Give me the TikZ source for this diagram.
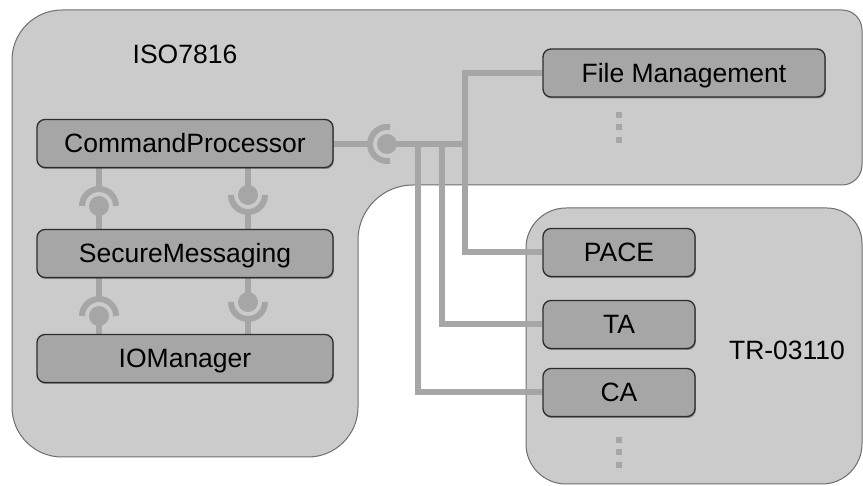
\documentclass[tikz,border=0pt]{standalone}
\usepackage{fontspec}
\setmainfont{Liberation Sans}
\usetikzlibrary{shadows}
\definecolor{areafill}{RGB}{203,203,203}
\definecolor{areaedge}{RGB}{110,110,110}
\definecolor{boxfill}{RGB}{166,166,166}
\definecolor{boxedge}{RGB}{45,45,45}
\definecolor{wire}{RGB}{166,166,166}
\pgfdeclarelayer{areas}
\pgfdeclarelayer{wires}
\pgfsetlayers{areas,wires,main}
\tikzset{
  area/.style={fill=areafill, draw=areaedge, line width=1pt},
  comp/.style={draw=boxedge, fill=boxfill, line width=1.3pt, rounded corners=8pt,
    minimum height=48pt, inner sep=0pt, text height=19pt, text depth=0pt,
    font=\fontsize{26.5}{30}\selectfont,
    drop shadow={shadow xshift=0.8pt, shadow yshift=-1.5pt, opacity=0.35, fill=black}},
  wide/.style={comp, minimum width=296pt},
  fmbox/.style={comp, minimum width=282pt},
  small/.style={comp, minimum width=152pt},
  conn/.style={draw=wire, line width=6pt, line join=miter},
  sock/.style={draw=wire, line width=6pt},
  ball/.style={fill=wire},
  dot/.style={fill=wire},
  lbl/.style={font=\fontsize{26.5}{30}\selectfont, text height=19pt, text depth=0pt, inner sep=0pt}
}
\begin{document}
\begin{tikzpicture}[x=1pt, y=-1pt]
\useasboundingbox (0,0) rectangle (863,486);
\clip (0,0) rectangle (863,486);

\begin{pgfonlayer}{areas}
% ISO7816 area
\path[area] (12,60) arc[start angle=180, end angle=270, radius=50]
  -- (842,10) arc[start angle=270, end angle=360, radius=20]
  -- (862,165) arc[start angle=0, end angle=90, radius=20]
  -- (413,185) arc[start angle=270, end angle=180, radius=55]
  -- (358,407) arc[start angle=0, end angle=90, radius=50]
  -- (62,457) arc[start angle=90, end angle=180, radius=50]
  -- cycle;
% TR-03110 area
\path[area] (526,248) arc[start angle=180, end angle=270, radius=40]
  -- (827,208) arc[start angle=270, end angle=360, radius=35]
  -- (862,444) arc[start angle=0, end angle=90, radius=40]
  -- (566,484) arc[start angle=90, end angle=180, radius=40]
  -- cycle;
\end{pgfonlayer}

\node[lbl] (iso) at (185,54) {ISO7816};
\node[lbl] (tr) at (787,350) {TR-03110};

% component boxes
\node[wide] (cp) at (185,143.5) {CommandProcessor};
\node[wide] (sm) at (185,253.5) {SecureMessaging};
\node[wide] (iom) at (185,358.5) {IOManager};
\node[fmbox] (fm) at (684,73) {File Management};
\node[small] (pace) at (619,252.5) {PACE};
\node[small] (ta) at (619,324.5) {TA};
\node[small] (ca) at (619,392.5) {CA};

% continuation dots
\foreach \yy in {115,127,140} {
  \fill[dot] (616,\yy-3) rectangle (622,\yy+3);
}
\foreach \yy in {440,452,465} {
  \fill[dot] (616,\yy-3) rectangle (622,\yy+3);
}

% connector geometry
\coordinate (s0) at (387,144);
\coordinate (s0in) at (368,144);
\coordinate (j1) at (418,144);
\coordinate (j2) at (442,144);
\coordinate (j3) at (465,144);

\coordinate (a1) at (99,206);
\coordinate (a1t) at (99,191);
\coordinate (b1) at (248,195);
\coordinate (b1b) at (248,211);
\coordinate (a2) at (99,316);
\coordinate (a2t) at (99,301);
\coordinate (b2) at (248,302);
\coordinate (b2b) at (248,318);

\begin{pgfonlayer}{wires}
% CommandProcessor to external interfaces
\draw[conn] (cp.east |- s0in) -- (s0in);
\draw[conn] (s0) -- (j3);
\draw[conn] (j1) |- (ca.west);
\draw[conn] (j2) |- (ta.west);
\draw[conn] (j3) |- (pace.west);
\draw[conn] (j3) |- (fm.west);
\draw[sock] (s0) ++(80:17) arc[start angle=80, end angle=280, radius=17];
\fill[ball] (s0) circle[radius=10];

% CommandProcessor - SecureMessaging
\draw[conn] (cp.south -| a1) -- (a1t);
\draw[sock] (a1) ++(180:17) arc[start angle=180, end angle=360, radius=17];
\fill[ball] (a1) circle[radius=10];
\draw[conn] (a1) -- (sm.north -| a1);

\draw[conn] (cp.south -| b1) -- (b1);
\fill[ball] (b1) circle[radius=10];
\draw[sock] (b1) ++(0:17) arc[start angle=0, end angle=180, radius=17];
\draw[conn] (b1b) -- (sm.north -| b1);

% SecureMessaging - IOManager
\draw[conn] (sm.south -| a2) -- (a2t);
\draw[sock] (a2) ++(180:17) arc[start angle=180, end angle=360, radius=17];
\fill[ball] (a2) circle[radius=10];
\draw[conn] (a2) -- (iom.north -| a2);

\draw[conn] (sm.south -| b2) -- (b2);
\fill[ball] (b2) circle[radius=10];
\draw[sock] (b2) ++(0:17) arc[start angle=0, end angle=180, radius=17];
\draw[conn] (b2b) -- (iom.north -| b2);
\end{pgfonlayer}
\end{tikzpicture}
\end{document}
